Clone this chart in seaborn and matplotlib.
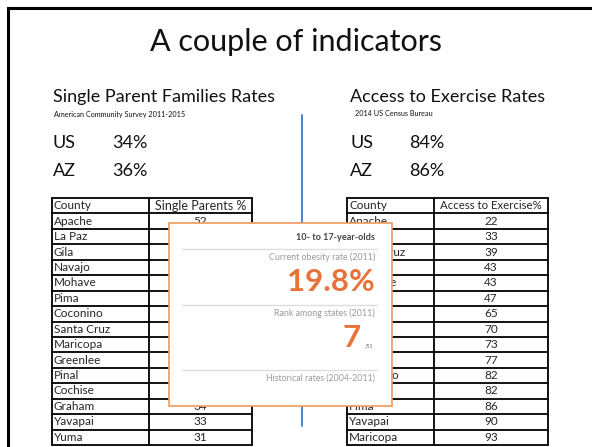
import matplotlib
matplotlib.use("Agg")
import matplotlib.pyplot as plt
import seaborn as sns
from matplotlib.patches import Rectangle

sns.set_theme(style="white")
plt.rcParams["font.family"] = ["Lato", "DejaVu Sans"]

# slide text
title = "A couple of indicators"
left_title = "Single Parent Families Rates"
left_source = "American Community Survey 2011-2015"
left_summary = [("US", "34%"), ("AZ", "36%")]
right_title = "Access to Exercise Rates"
right_source = "2014 US Census Bureau"
right_summary = [("US", "84%"), ("AZ", "86%")]

# table data
single_counties = ["Apache", "La Paz", "Gila", "Navajo", "Mohave", "Pima", "Coconino",
                   "Santa Cruz", "Maricopa", "Greenlee", "Pinal", "Cochise", "Graham",
                   "Yavapai", "Yuma"]
single_pct = [52, 48, 45, 44, 43, 40, 39, 38, 37, 36, 36, 35, 34, 33, 31]

exercise_counties = ["Apache", "La Paz", "Santa Cruz", "Navajo", "Greenlee", "Gila",
                     "Graham", "Cochise", "Yuma", "Mohave", "Coconino", "Pinal", "Pima",
                     "Yavapai", "Maricopa"]
exercise_pct = [22, 33, 39, 43, 43, 47, 65, 70, 73, 77, 82, 82, 86, 90, 93]

# overlay panel text
panel_head = "10- to 17-year-olds"
panel_items = ["Current obesity rate (2011)", "Rank among states (2011)",
               "Historical rates (2004-2011)"]
obesity_rate = "19.8%"
state_rank = "7"
rank_of = "/51"

W, H = 592, 447
fig = plt.figure(figsize=(W / 100, H / 100), dpi=100)
ax = fig.add_axes([0, 0, 1, 1])
ax.set_xlim(0, W)
ax.set_ylim(H, 0)
ax.axis("off")

# slide frame (top and left edges only)
ax.plot([8, 8, W + 5], [H + 5, 8, 8], color="black", lw=2.2, solid_joinstyle="miter")

ax.text(296, 42, title, ha="center", va="center", fontsize=22, color="#111111")


def header_block(x, title_txt, source, src_x, summary, val_x):
    ax.text(x, 97, title_txt, ha="left", va="center", fontsize=13, color="#111111")
    ax.text(src_x, 114, source, ha="left", va="center", fontsize=5.2, color="#111111")
    for i, (lab, val) in enumerate(summary):
        y = 143 + i * 28
        ax.text(x, y, lab, ha="left", va="center", fontsize=13, color="#111111")
        ax.text(val_x, y, val, ha="left", va="center", fontsize=13, color="#111111")


header_block(53, left_title, left_source, 54, left_summary, 112)
header_block(350, right_title, right_source, 355, right_summary, 409)

# divider
ax.plot([302, 302], [115, 426], color="#3A78C8", lw=1.3)


def draw_table(x0, xs, x1, head, head_size, counties, values):
    top, bot = 198, 445
    n = len(counties) + 1
    rh = (bot - top) / n
    for i in range(n + 1):
        ax.plot([x0, x1], [top + i * rh, top + i * rh], color="black", lw=1.3)
    for xv in (x0, xs, x1):
        ax.plot([xv, xv], [top, bot], color="black", lw=1.3)
    ax.text(x0 + 2, top + rh / 2, "County", ha="left", va="center", fontsize=8.5)
    ax.text((xs + x1) / 2, top + rh / 2, head, ha="center", va="center", fontsize=head_size)
    for i, (c, v) in enumerate(zip(counties, values)):
        y = top + (i + 1.5) * rh
        ax.text(x0 + 2, y, c, ha="left", va="center", fontsize=8.5)
        ax.text((xs + x1) / 2, y, str(v), ha="center", va="center", fontsize=8.5)


draw_table(52, 149, 252, "Single Parents %", 9, single_counties, single_pct)
draw_table(347, 434, 548, "Access to Exercise%", 8.2, exercise_counties, exercise_pct)

# overlay panel
ax.add_patch(Rectangle((169, 223), 223, 183, facecolor="white", edgecolor="#EE9A5C",
                       lw=1.2, zorder=5))
orange = "#E8733A"
gray = "#9A9A9A"
rx = 375
ax.text(rx, 238, panel_head, ha="right", va="center", fontsize=6.6, fontweight="bold",
        color="#444444", zorder=6)
for yl in (249, 305, 370):
    ax.plot([182, rx + 2], [yl, yl], color="#DDDDDD", lw=1, zorder=6)
ax.text(rx, 257, panel_items[0], ha="right", va="center", fontsize=6.4, color=gray, zorder=6)
ax.text(rx, 282, obesity_rate, ha="right", va="center", fontsize=22.5, fontweight="bold",
        color=orange, zorder=6)
ax.text(rx, 313, panel_items[1], ha="right", va="center", fontsize=6.4, color=gray, zorder=6)
ax.text(361, 338, state_rank, ha="right", va="center", fontsize=22.5, fontweight="bold",
        color=orange, zorder=6)
ax.text(365, 346, rank_of, ha="left", va="center", fontsize=3.8, color="#666666", zorder=6)
ax.text(rx, 378, panel_items[2], ha="right", va="center", fontsize=6.3, color=gray, zorder=6)

fig.savefig("out.png", dpi=100, facecolor="white")
